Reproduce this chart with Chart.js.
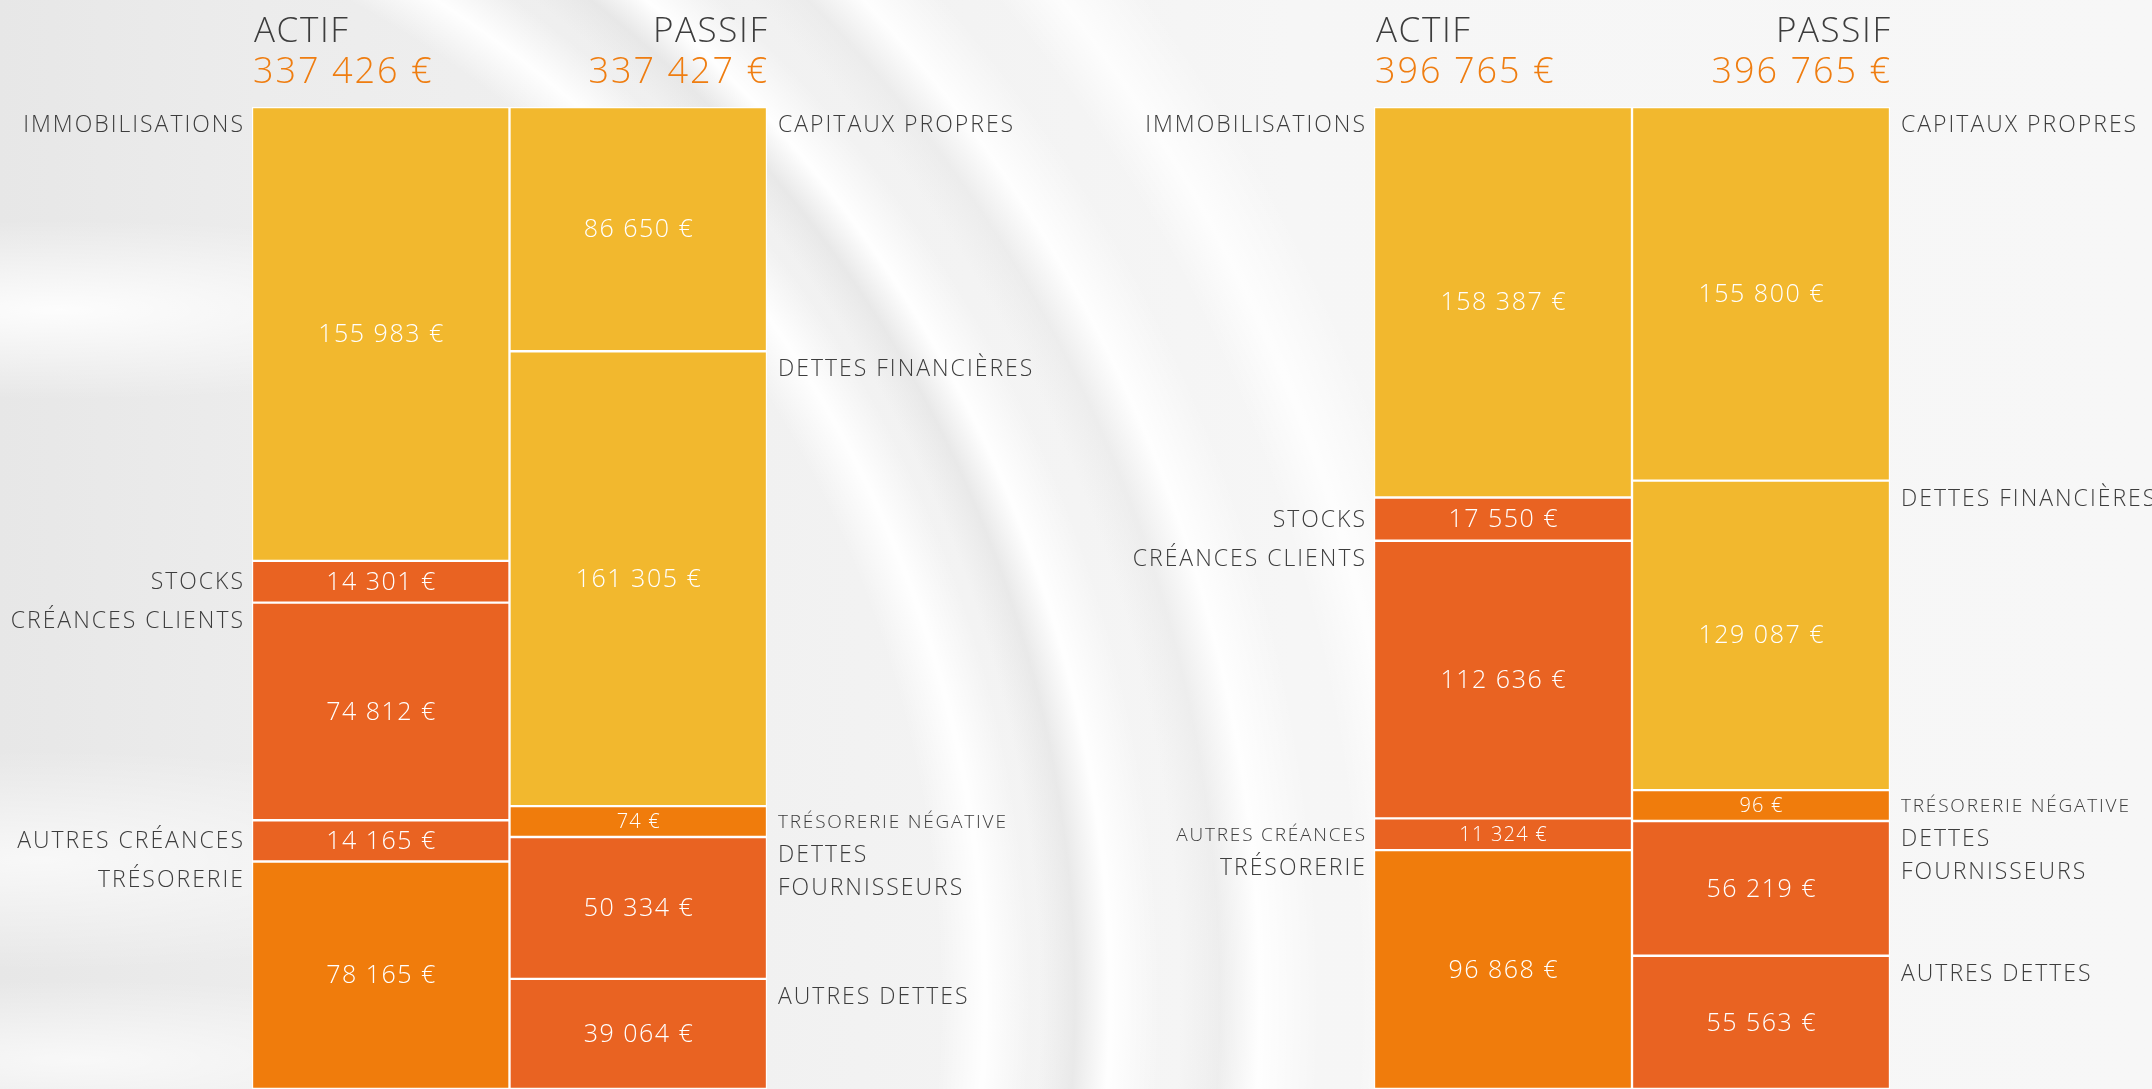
<!DOCTYPE html>
<html lang="fr">
<head>
<meta charset="utf-8">
<title>Bilan - actif / passif</title>
<script src="https://cdn.jsdelivr.net/npm/chart.js@4.4.1/dist/chart.umd.min.js"></script>
<style>
    html, body {
        margin: 0;
        padding: 0;
        width: 2152px;
        height: 1089px;
        overflow: hidden;
    }
    body {
        background:
            radial-gradient(circle at -200px 1000px, rgba(255,255,255,0) 1140px, rgba(255,255,255,0.95) 1185px, rgba(255,255,255,0) 1230px),
            radial-gradient(circle at -200px 1000px, rgba(228,228,228,0) 1240px, rgba(226,226,226,0.6) 1275px, rgba(255,255,255,0.95) 1310px, rgba(255,255,255,0) 1360px),
            radial-gradient(circle at -200px 1000px, rgba(230,230,230,0) 1380px, rgba(230,230,230,0.5) 1420px, rgba(255,255,255,0.9) 1460px, rgba(255,255,255,0) 1520px),
            radial-gradient(circle at -200px 1000px, rgba(255,255,255,0) 1560px, rgba(255,255,255,0.8) 1610px, rgba(255,255,255,0) 1680px),
            radial-gradient(ellipse 520px 90px at 60px 310px, rgba(255,255,255,0.9) 0%, rgba(255,255,255,0) 100%),
            radial-gradient(ellipse 520px 110px at 40px 860px, rgba(255,255,255,0.7) 0%, rgba(255,255,255,0) 100%),
            radial-gradient(ellipse 480px 80px at 80px 1060px, rgba(255,255,255,0.7) 0%, rgba(255,255,255,0) 100%),
            linear-gradient(90deg, #e7e7e7 0%, #ececec 12%, #f2f2f2 40%, #f6f6f6 60%, #f7f7f7 100%);
    }
    .panel {
        position: absolute;
        top: 0;
        width: 1076px;
        height: 1089px;
    }
    #left { left: 0; }
    #right { left: 1076px; }
</style>
</head>
<body>
<div class="panel" id="left"><canvas id="chart1"></canvas></div>
<div class="panel" id="right"><canvas id="chart2"></canvas></div>

<script>
// Bilan en deux exercices : actif / passif

const columns = ['ACTIF', 'PASSIF'];

const actifLabels = ['IMMOBILISATIONS', 'STOCKS', 'CRÉANCES CLIENTS', 'AUTRES CRÉANCES', 'TRÉSORERIE'];
const passifLabels = ['CAPITAUX PROPRES', 'DETTES FINANCIÈRES', 'TRÉSORERIE NÉGATIVE', ['DETTES', 'FOURNISSEURS'], 'AUTRES DETTES'];

const actifYear1 = [155983, 14301, 74812, 14165, 78165];
const passifYear1 = [86650, 161305, 74, 50334, 39064];

const actifYear2 = [158387, 17550, 112636, 11324, 96868];
const passifYear2 = [155800, 129087, 96, 56219, 55563];

const YELLOW = '#F2B82E';
const RED = '#E96322';
const ORANGE = '#F07C0C';
const actifColors = [YELLOW, RED, RED, RED, ORANGE];
const passifColors = [YELLOW, YELLOW, ORANGE, RED, RED];

// small blocks keep a minimum height so their label stays readable
const MIN_SHARE = 0.0325;

const FONT = '"Open Sans", "Noto Sans", sans-serif';
const TEXT_GREY = '#3d3d3d';
const TOTAL_ORANGE = '#EF7D10';

function formatEuro(v) {
    return String(v).replace(/\B(?=(\d{3})+(?!\d))/g, ' ') + ' €';
}

function sum(arr) {
    return arr.reduce((s, v) => s + v, 0);
}

function shares(values) {
    const total = sum(values);
    const raw = values.map(v => Math.max(v / total, MIN_SHARE));
    const k = sum(raw);
    return raw.map(v => v / k);
}

function buildDatasets(actif, passif) {
    const sets = [];
    const sa = shares(actif);
    const sp = shares(passif);
    actif.forEach((v, i) => {
        sets.push({
            label: actifLabels[i],
            data: [sa[i], null],
            value: v,
            side: 'left',
            backgroundColor: actifColors[i]
        });
    });
    passif.forEach((v, i) => {
        sets.push({
            label: passifLabels[i],
            data: [null, sp[i]],
            value: v,
            side: 'right',
            backgroundColor: passifColors[i]
        });
    });
    sets.forEach(s => {
        s.borderColor = '#ffffff';
        s.borderWidth = 1.5;
        s.borderSkipped = false;
        s.barPercentage = 1;
        s.categoryPercentage = 1;
        s.stack = 'bilan';
    });
    return sets;
}

// draws text with letter spacing, anchor corrected for the trailing gap
function spacedText(ctx, text, x, y, spacing) {
    ctx.letterSpacing = spacing + 'px';
    let dx = 0;
    if (ctx.textAlign === 'right') dx = spacing;
    else if (ctx.textAlign === 'center') dx = spacing / 2;
    ctx.fillText(text, x + dx, y);
    ctx.letterSpacing = '0px';
}

const labelsPlugin = {
    id: 'bilanLabels',
    afterDatasetsDraw(chart) {
        const ctx = chart.ctx;
        const area = chart.chartArea;
        const totals = chart.options.plugins.bilanLabels.totals;

        ctx.save();
        ctx.textBaseline = 'alphabetic';

        // column headers
        ctx.font = '300 35px ' + FONT;
        ctx.fillStyle = TEXT_GREY;
        ctx.textAlign = 'left';
        spacedText(ctx, columns[0], area.left + 2, 42, 1.6);
        ctx.textAlign = 'right';
        spacedText(ctx, columns[1], area.right, 42, 1.6);

        ctx.font = '300 36px ' + FONT;
        ctx.fillStyle = TOTAL_ORANGE;
        ctx.textAlign = 'left';
        spacedText(ctx, formatEuro(totals[0]), area.left + 1, 83, 2);
        ctx.textAlign = 'right';
        spacedText(ctx, formatEuro(totals[1]), area.right, 83, 2);

        chart.data.datasets.forEach((ds, di) => {
            const meta = chart.getDatasetMeta(di);
            const col = ds.side === 'left' ? 0 : 1;
            const bar = meta.data[col];
            if (!bar) return;
            const { x, y, base, width } = bar.getProps(['x', 'y', 'base', 'width'], true);
            const top = Math.min(y, base);
            const h = Math.abs(base - y);
            const small = h < 38;

            // value inside the block
            ctx.fillStyle = '#ffffff';
            ctx.textAlign = 'center';
            ctx.textBaseline = 'middle';
            ctx.font = '300 ' + (small ? 20 : 25) + 'px ' + FONT;
            spacedText(ctx, formatEuro(ds.value), x, top + h / 2 + 1, small ? 1.2 : 1.5);

            // category name beside the block
            ctx.fillStyle = TEXT_GREY;
            ctx.font = '300 ' + (small ? 19 : 23) + 'px ' + FONT;
            const lines = Array.isArray(ds.label) ? ds.label : [ds.label];
            const cy = h < 48 ? top + h / 2 : top + 17.5;
            let tx;
            if (ds.side === 'left') {
                ctx.textAlign = 'right';
                tx = x - width / 2 - 9;
            } else {
                ctx.textAlign = 'left';
                tx = x + width / 2 + 11;
            }
            lines.forEach((line, li) => {
                spacedText(ctx, line, tx, cy + li * 33 + 1, small ? 1.8 : 2);
            });
        });

        ctx.restore();
    }
};

function makeChart(canvasId, actif, passif, padLeft, padRight) {
    const ctx = document.getElementById(canvasId).getContext('2d');
    return new Chart(ctx, {
        type: 'bar',
        data: {
            labels: columns,
            datasets: buildDatasets(actif, passif)
        },
        options: {
            responsive: true,
            maintainAspectRatio: false,
            animation: false,
            layout: {
                padding: { left: padLeft, right: padRight, top: 107, bottom: 0 }
            },
            plugins: {
                legend: { display: false },
                tooltip: { enabled: false },
                bilanLabels: { totals: [sum(actif), sum(passif)] }
            },
            scales: {
                x: { display: false, stacked: true },
                y: { display: false, stacked: true, min: 0, max: 1, reverse: true }
            }
        },
        plugins: [labelsPlugin]
    });
}

makeChart('chart1', actifYear1, passifYear1, 252, 309);
makeChart('chart2', actifYear2, passifYear2, 298, 262);
</script>
</body>
</html>
